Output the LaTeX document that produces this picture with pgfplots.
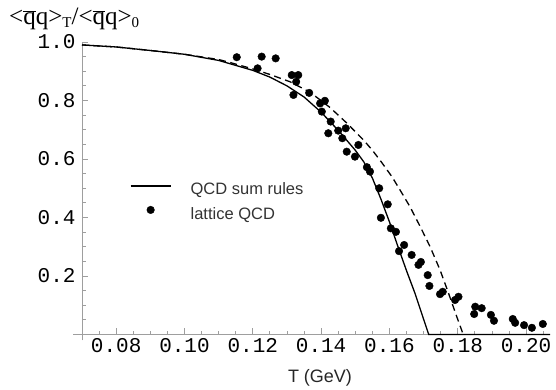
\documentclass[border=0pt]{standalone}
\usepackage{fontspec}
\setmainfont{Liberation Sans}
\newfontfamily\serifF{Liberation Serif}
\newfontfamily\monoF{Liberation Mono}
\usepackage{pgfplots}
\pgfplotsset{compat=1.18}
\begin{document}
\begin{tikzpicture}[x=1pt,y=1pt]
\useasboundingbox (0,0) rectangle (556,390);
\begin{axis}[
  at={(82pt,55.5pt)}, anchor=south west,
  scale only axis, width=468pt, height=292.5pt,
  xmin=0.07, xmax=0.207, ymin=0, ymax=1.0,
  clip=false,
  axis x line=bottom, axis y line=left,
  axis line style={-, draw=black!38, line width=0.8pt},
  x axis line style={shorten <=-9pt},
  y axis line style={shorten <=-6pt},
  tick align=inside,
  major tick length=6pt, minor tick length=3.5pt,
  tick style={draw=black!38, line width=0.8pt},
  xtick={0.08,0.10,0.12,0.14,0.16,0.18,0.20},
  ytick={0.2,0.4,0.6,0.8,1.0},
  minor xtick={0.07,0.075,0.085,0.09,0.095,0.105,0.11,0.115,0.125,0.13,0.135,0.145,0.15,0.155,0.165,0.17,0.175,0.185,0.19,0.195,0.205},
  minor ytick={0.05,0.1,0.15,0.25,0.3,0.35,0.45,0.5,0.55,0.65,0.7,0.75,0.85,0.9,0.95},
  /pgf/number format/assume math mode=true,
  xticklabel style={font=\monoF\fontsize{21}{24}\selectfont, /pgf/number format/.cd, fixed, fixed zerofill, precision=2},
  yticklabel style={font=\monoF\fontsize{21}{24}\selectfont, xshift=-3pt, /pgf/number format/.cd, fixed, fixed zerofill, precision=1},
  scaled ticks=false,
  every axis x label/.style={at={(axis description cs:0.5,0)}, anchor=base, xshift=4pt, yshift=-48.5pt, inner sep=0pt, font=\fontsize{18}{20}\selectfont, text=black!85},
  every axis y label/.style={at={(axis description cs:0,1)}, anchor=base west, xshift=-73pt, yshift=17pt, inner sep=0pt},
  xlabel={T (GeV)},
  ylabel={\serifF\fontsize{25}{28}\selectfont <\mbox{$\overline{\mbox{q}}$}q>\raisebox{-3pt}{\fontsize{15}{15}\selectfont T}/<\mbox{$\overline{\mbox{q}}$}q>\raisebox{-3pt}{\fontsize{15}{15}\selectfont 0}},
  legend style={at={(axis cs:0.08405,0.518)}, anchor=north west, draw=none, fill=none, inner sep=0pt, outer sep=0pt,
    font=\fontsize{16.5}{18}\selectfont, text=black!80,
    row sep={25pt,between origins}, column sep={60pt,between origins},
    nodes={inner sep=0pt, outer sep=0pt, anchor=base west}},
  legend cell align=left,
]
\addplot[black, line width=1.3pt, no markers,
  legend image code/.code={\draw[black, line width=1.3pt] (0pt,9pt) -- (40pt,9pt);}]
  coordinates {(0.070,0.990)(0.080,0.983)(0.090,0.971)(0.100,0.958)(0.110,0.937)(0.120,0.903)(0.125,0.880)(0.130,0.850)(0.135,0.812)(0.140,0.760)(0.145,0.698)(0.150,0.630)(0.1525,0.590)(0.155,0.535)(0.1575,0.463)(0.160,0.385)(0.1625,0.300)(0.165,0.218)(0.1675,0.140)(0.170,0.052)(0.1715,0)(0.207,0)};
\addlegendentry{QCD sum rules}
\addplot[only marks, mark=*, mark size=3.8pt, black,
  legend image code/.code={\fill[black] (20pt,10pt) circle (3.8pt);}]
  coordinates {(0.1153,0.948)(0.1226,0.950)(0.1267,0.944)(0.1214,0.910)(0.1314,0.887)(0.1333,0.887)(0.1327,0.864)(0.1319,0.819)(0.1365,0.826)(0.1397,0.790)(0.1411,0.799)(0.1402,0.762)(0.1428,0.728)(0.1421,0.688)(0.1450,0.697)(0.1472,0.705)(0.1462,0.671)(0.1509,0.648)(0.1475,0.625)(0.1499,0.608)(0.1534,0.572)(0.1543,0.557)(0.1570,0.500)(0.1595,0.445)(0.1575,0.399)(0.1604,0.363)(0.1619,0.351)(0.1643,0.306)(0.1628,0.285)(0.1665,0.272)(0.1685,0.238)(0.1692,0.248)(0.1712,0.203)(0.1717,0.166)(0.1748,0.138)(0.1756,0.146)(0.1792,0.118)(0.1802,0.129)(0.1851,0.095)(0.1870,0.090)(0.1848,0.070)(0.1897,0.067)(0.1906,0.047)(0.1961,0.053)(0.1968,0.040)(0.1994,0.032)(0.2017,0.023)(0.2049,0.036)};
\addlegendentry{lattice QCD}
\addplot[black, line width=1.3pt, dash pattern=on 7pt off 4.5pt, no markers, forget plot]
  coordinates {(0.070,0.990)(0.080,0.983)(0.090,0.971)(0.100,0.958)(0.110,0.940)(0.1133,0.930)(0.120,0.908)(0.125,0.889)(0.1309,0.864)(0.1368,0.828)(0.1426,0.776)(0.1475,0.723)(0.1524,0.665)(0.155,0.630)(0.1578,0.587)(0.1607,0.540)(0.1631,0.494)(0.166,0.437)(0.169,0.369)(0.1719,0.300)(0.1748,0.221)(0.1773,0.141)(0.1797,0.061)(0.1816,0)};
\end{axis}
\end{tikzpicture}
\end{document}
